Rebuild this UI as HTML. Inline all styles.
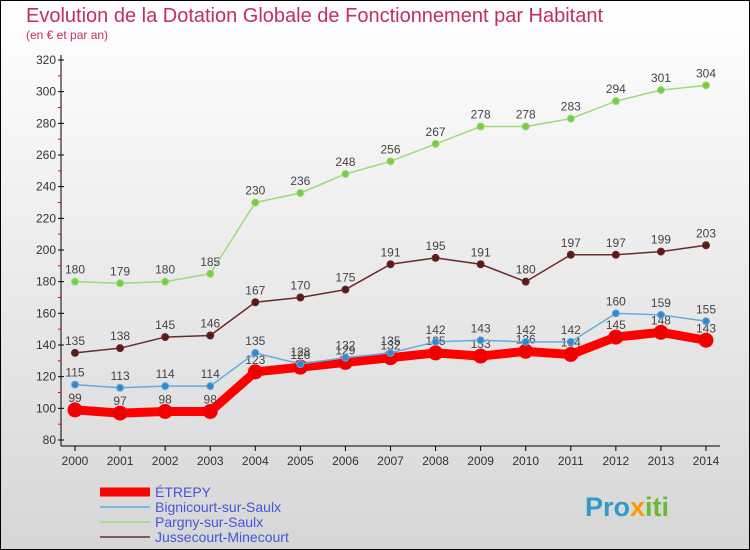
<!DOCTYPE html>
<html><head><meta charset="utf-8"><style>
body{margin:0;}
#c{width:750px;height:550px;position:relative;overflow:hidden;font-family:"Liberation Sans",sans-serif;}
</style></head><body>
<div id="c">
<svg id="s" width="750" height="550" xmlns="http://www.w3.org/2000/svg">
<defs><linearGradient id="bg" x1="0" y1="0" x2="0" y2="1"><stop offset="0" stop-color="#ffffff"/><stop offset="1" stop-color="#d6d6d6"/></linearGradient></defs>
<rect x="0.5" y="0.5" width="749" height="549" fill="url(#bg)" stroke="#000"/>
<text x="26" y="22" font-size="20" fill="#c0305a">Evolution de la Dotation Globale de Fonctionnement par Habitant</text>
<text x="26" y="39" font-size="12" fill="#c0305a">(en € et par an)</text>
<g id="axes"></g><g id="series"></g><g id="legend"></g>
<text x="585" y="516" font-size="27" font-weight="bold"><tspan fill="#3399cc">Pro</tspan><tspan fill="#ff9900">x</tspan><tspan fill="#66bb33">iti</tspan></text>
</svg>
</div>
<script>
const years=[2000,2001,2002,2003,2004,2005,2006,2007,2008,2009,2010,2011,2012,2013,2014];
const yTicks=[80,100,120,140,160,180,200,220,240,260,280,300,320];
const etrepy=[99,97,98,98,123,126,129,132,135,133,136,134,145,148,143];
const bignicourt=[115,113,114,114,135,128,132,135,142,143,142,142,160,159,155];
const pargny=[180,179,180,185,230,236,248,256,267,278,278,283,294,301,304];
const jussecourt=[135,138,145,146,167,170,175,191,195,191,180,197,197,199,203];
const seriesNames=["ÉTREPY","Bignicourt-sur-Saulx","Pargny-sur-Saulx","Jussecourt-Minecourt"];

const NS="http://www.w3.org/2000/svg";
function X(i){return 75+i*(706-75)/14;}
function Y(v){return 60+(320-v)*380/240;}
function mk(t,a,p){const e=document.createElementNS(NS,t);for(const k in a)e.setAttribute(k,a[k]);p.appendChild(e);return e;}
const ax=document.getElementById('axes');
const yl=mk('line',{x1:61,y1:55,x2:61,y2:446,stroke:'#000'},ax);


const xl=mk('line',{x1:61,y1:446,x2:720,y2:446,stroke:'#000'},ax);


yTicks.forEach(v=>{
  mk('line',{x1:58,y1:Y(v),x2:64,y2:Y(v),stroke:'#000'},ax);
  if(v<320) mk('line',{x1:58,y1:Y(v+10),x2:61,y2:Y(v+10),stroke:'#f00'},ax);
  const t=mk('text',{x:56,y:Y(v)+4,'font-size':12,'text-anchor':'end',fill:'#333'},ax);
  t.textContent=v;
  
  
});
years.forEach((yr,i)=>{
  mk('line',{x1:X(i),y1:446,x2:X(i),y2:451,stroke:'#000'},ax);
  const t=mk('text',{x:X(i),y:465,'font-size':12,'text-anchor':'middle',fill:'#333'},ax);
  t.textContent=yr;
  
  
});
const sg=document.getElementById('series');
function draw(data,color,w,r,name,fill){
  const g=mk('g',{},sg);
  
  
  mk('polyline',{points:data.map((v,i)=>X(i)+','+Y(v)).join(' '),fill:'none',stroke:color,'stroke-width':w,'stroke-linejoin':'round'},g);
  data.forEach((v,i)=>{
    const c=mk('circle',{cx:X(i),cy:Y(v),r:r,fill:fill,stroke:color,'stroke-width':1},g);
    
    
    const t=mk('text',{x:X(i),y:Y(v)-8,'font-size':12,'text-anchor':'middle',fill:'#444'},g);
    t.textContent=v;
    
    
  });
}
draw(pargny,'#99dd77',1.5,3.5,'series-pargny','#77cc44');
draw(jussecourt,'#6b2a2a',1.5,3.5,'series-jussecourt','#5a1a1a');
draw(etrepy,'#ff0000',9,7,'series-etrepy','#ee0000');
draw(bignicourt,'#66aadd',1.5,3.5,'series-bignicourt','#3388cc');
const lg=document.getElementById('legend');
const lc=['#ff0000','#66aadd','#99dd77','#6b2a2a'],lw=[9,1.5,1.5,1.5];
seriesNames.forEach((n,i)=>{
  const y=492+i*15;
  const g=mk('g',{},lg);
  
  
  mk('line',{x1:100,y1:y,x2:150,y2:y,stroke:lc[i],'stroke-width':lw[i]},g);
  const t=mk('text',{x:155,y:y+5,'font-size':14,fill:'#4455dd'},g);
  t.textContent=n;
});
</script>
</body></html>
